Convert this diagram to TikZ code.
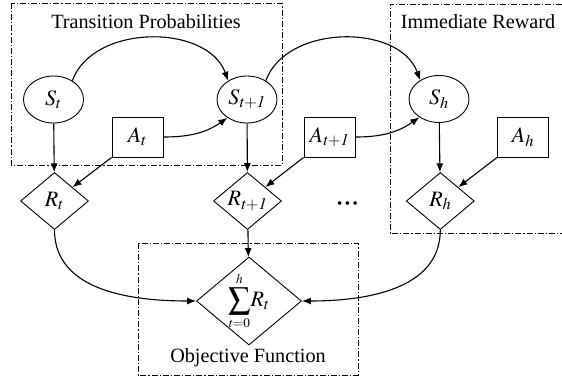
\documentclass[tikz,border=0pt]{standalone}
\usepackage{amsmath}
\usepackage{mathptmx}
\usepackage{fontspec}
\setmainfont{Liberation Serif}
\usetikzlibrary{shapes.geometric,arrows.meta}

\begin{document}
\begin{tikzpicture}[x=1pt,y=1pt,
        font=\fontsize{20.2}{24}\selectfont,
        sym/.style={font=\fontsize{22}{26}\selectfont},
        state/.style={draw,sym,line width=0.9pt,ellipse,inner sep=0pt,minimum width=60pt,minimum height=47pt},
        action/.style={draw,sym,line width=0.9pt,rectangle,inner sep=0pt,minimum width=51pt,minimum height=40pt},
        rew/.style={draw,line width=0.9pt,diamond,inner sep=0pt,minimum width=68pt,minimum height=57pt,
            label={[sym]center:#1}},
        arr/.style={line width=1.1pt,-{Latex[length=9pt,width=7pt]}},
        group/.style={line width=0.8pt,dash pattern=on 6pt off 2pt on 1.2pt off 2pt}]
        \useasboundingbox (0,0) rectangle (562,376);

        % dash-dotted groups
        \draw[group] (11,373) rectangle (282,211);
        \draw[group] (562,372) -- (390,372) -- (390,143) -- (562,143);
        \draw[group] (138,133) rectangle (358,1);

        \node (transl) at (146,354) {Transition Probabilities};
        \node (rewl) at (478,354) {Immediate Reward};
        \node (objl) at (248,18) {Objective Function};

        % states, actions, rewards
        \node[state] (st) at (53.5,276.5) {$S_t$};
        \node[state] (st1) at (247,276.5) {$S_{\mathit{t+1}}$};
        \node[state] (sh) at (439,277) {$S_h$};

        \node[action] (at) at (137.5,239) {$A_t$};
        \node[action] (at1) at (329.5,239) {$A_{\mathit{t+1}}$};
        \node[action] (ah) at (523,239) {$A_h$};

        \node[rew={$R_t$}] (rt) at (54.5,175) {};
        \node[rew={$R_{\mathit{t+1}}$}] (rt1) at (247.5,175) {};
        \node[rew={$R_h$}] (rh) at (440.3,175) {};
        \node[font=\fontsize{15}{15}\selectfont] (dots) at (347.5,171) {\textbullet\,\textbullet\,\textbullet};

        \node[rew={$\displaystyle\sum_{\scriptscriptstyle t=0}^{\scriptscriptstyle h}\! R_t$}, minimum width=105pt, minimum height=88pt] (sum) at (249,75) {};

        % transitions
        \draw[arr] (st.45) to[out=70,in=110] (st1.135);
        \draw[arr] (st1.45) to[out=70,in=110] (sh.135);
        \draw[arr] (at.east) to[out=0,in=215] (st1.223);
        \draw[arr] (at1.east) to[out=0,in=215] (sh.223);

        % rewards
        \draw[arr] (st) -- (rt);
        \draw[arr] (at.south west) -- (rt);
        \draw[arr] (st1) -- (rt1);
        \draw[arr] (at1.south west) -- (rt1);
        \draw[arr] (sh) -- (rh);
        \draw[arr] (ah.south west) -- (rh);

        % objective
        \draw[arr] (rt.south) to[out=-90,in=180] (sum.west);
        \draw[arr] (rt1) -- (sum);
        \draw[arr] (rh.south) to[out=-90,in=0] (sum.east);
\end{tikzpicture}
\end{document}
